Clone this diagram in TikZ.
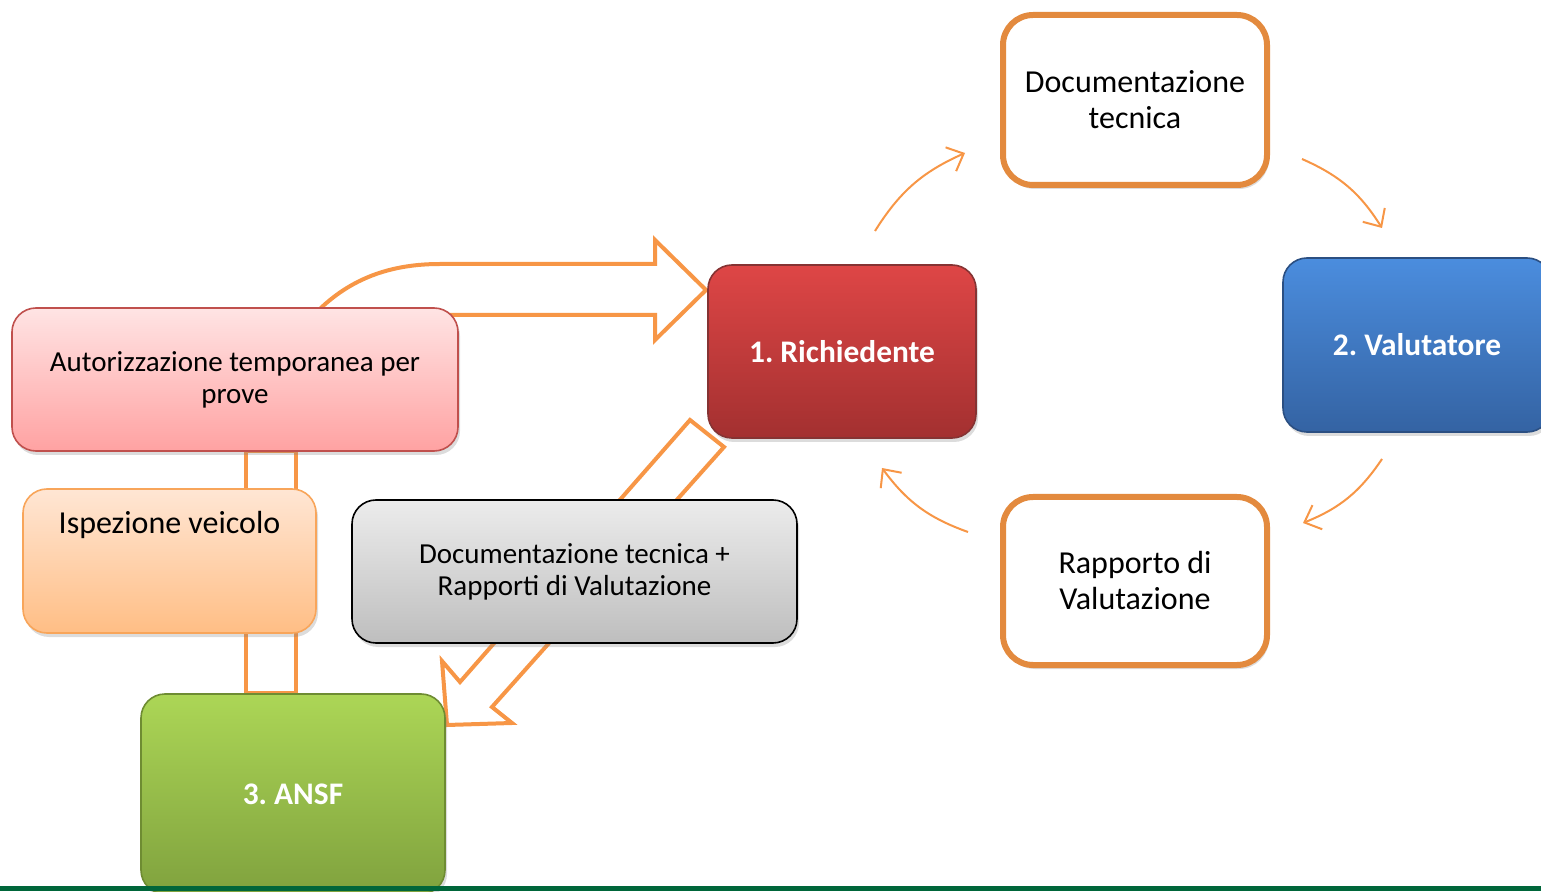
\documentclass[tikz,border=0pt]{standalone}
\usepackage{fontspec}
\setmainfont{Carlito}
\usetikzlibrary{arrows.meta,shadows,calc}
\definecolor{arrowor}{HTML}{F79646}
\definecolor{boxor}{HTML}{E38A3E}
\definecolor{lineg}{HTML}{00663A}
\frenchspacing
\begin{document}
\begin{tikzpicture}[x=0.5pt,y=0.5pt,
  shd/.style={drop shadow={opacity=0.28,shadow xshift=1pt,shadow yshift=-2pt}},
  obox/.style={draw=boxor,line width=3pt,fill=white,rounded corners=15pt,inner sep=0pt,
     minimum width=132pt,minimum height=85pt,align=center,font=\fontsize{16}{18}\selectfont,shd},
  mainbox/.style={rounded corners=12pt,inner sep=0pt,align=center,text=white,
     font=\fontsize{15.7}{18}\selectfont\bfseries,line width=0.8pt,shd},
  infobox/.style={rounded corners=12pt,inner sep=0pt,align=center,line width=0.8pt,
     font=\fontsize{14.5}{16}\selectfont,shd},
  blockarrow/.style={draw=arrowor,line width=2pt,line join=miter,fill=white},
  cyclearrow/.style={draw=arrowor,line width=1pt,-{Straight Barb[length=7pt,width=13pt]}}
]
\useasboundingbox (0,0) rectangle (1541,-892);
\clip (0,0) rectangle (1541,-892);

% coordinates for the cycle arrows
\coordinate (c1s) at (875,-231); \coordinate (c1e) at (965,-153);
\coordinate (c2s) at (1302,-159); \coordinate (c2e) at (1382,-228);
\coordinate (c3s) at (1382,-459); \coordinate (c3e) at (1303,-523);
\coordinate (c4s) at (968,-532); \coordinate (c4e) at (882,-468);

% block arrows and connector (behind boxes)
\draw[blockarrow] (290,-345) .. controls (330,-285) and (380,-264) .. (440,-264)
   -- (655,-264) -- (655,-240) -- (706,-290) -- (655,-340) -- (655,-315) -- (350,-315) -- cycle;
\draw[blockarrow] (690,-420) -- (460,-682) -- (442,-661) -- (447,-725) -- (512,-723)
   -- (492,-707) -- (724,-447) -- cycle;
\draw[draw=arrowor,line width=2pt] (246,-451) rectangle (296,-693);

% main boxes
\node[mainbox,draw=red!40!black!80,top color={rgb,255:red,222;green,70;blue,70},
   bottom color={rgb,255:red,163;green,48;blue,48},minimum width=134pt,minimum height=86.5pt]
   (rich) at (842,-351.5) {1. Richiedente};
\node[mainbox,draw={rgb,255:red,43;green,79;blue,130},top color={rgb,255:red,75;green,141;blue,222},
   bottom color={rgb,255:red,52;green,99;blue,163},minimum width=134pt,minimum height=87pt]
   (val) at (1417,-345) {2. Valutatore};
\node[mainbox,draw={rgb,255:red,110;green,140;blue,50},top color={rgb,255:red,172;green,214;blue,86},
   bottom color={rgb,255:red,128;green,162;blue,62},minimum width=152pt,minimum height=100pt]
   (ansf) at (293,-794) {3. ANSF};

% orange bordered boxes
\node[obox] (doc) at (1135,-100) {Documentazione\\tecnica};
\node[obox,minimum height=84pt] (rap) at (1135,-581) {Rapporto di\\Valutazione};

% info boxes
\node[infobox,draw={rgb,255:red,192;green,80;blue,77},top color={rgb,255:red,255;green,228;blue,228},
   bottom color={rgb,255:red,255;green,162;blue,162},minimum width=223pt,minimum height=71.5pt,
   text depth=2pt]
   (auth) at (235,-379.5) {Autorizzazione temporanea per\\prove};
\node[infobox,draw={rgb,255:red,248;green,165;blue,90},top color={rgb,255:red,255;green,230;blue,212},
   bottom color={rgb,255:red,255;green,190;blue,133},minimum width=146.5pt,minimum height=72pt]
   (isp) at (169.5,-561) {};
\node[anchor=base,font=\fontsize{16}{18}\selectfont,inner sep=0pt] (isptext) at ($(isp.north)+(0,-45)$) {Ispezione veicolo};
\node[infobox,draw=black,top color={rgb,255:red,236;green,236;blue,236},
   bottom color={rgb,255:red,190;green,190;blue,190},minimum width=222.5pt,minimum height=71.5pt]
   (gray) at (574.5,-571.5) {Documentazione tecnica +\\Rapporti di Valutazione};

% cycle arrows
\draw[cyclearrow] (c1s) to[bend left=17] (c1e);
\draw[cyclearrow] (c2s) to[bend left=17] (c2e);
\draw[cyclearrow] (c3s) to[bend left=17] (c3e);
\draw[cyclearrow] (c4s) to[bend left=17] (c4e);

% bottom line
\fill[lineg] (0,-886) rectangle (1541,-891);
\end{tikzpicture}
\end{document}
